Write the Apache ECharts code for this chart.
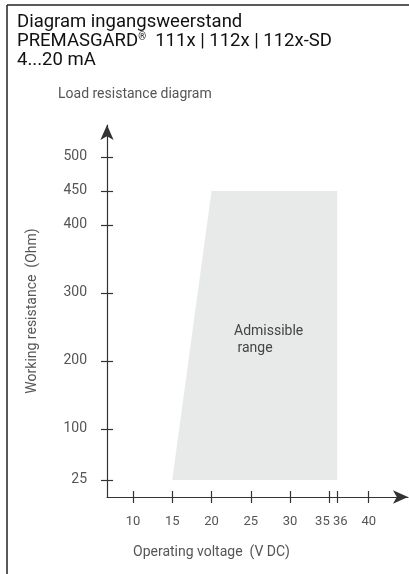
<!DOCTYPE html>
<html><head><meta charset="utf-8">
<script src="https://cdn.jsdelivr.net/npm/echarts@6/dist/echarts.min.js"></script>
<style>html,body{margin:0;padding:0;background:#fff}#c{width:409px;height:574px}</style>
</head><body><div id="c"></div>
<script>
const titleLines = ['Diagram ingangsweerstand', 'PREMASGARD{sup|®}  111x | 112x | 112x-SD', '4...20 mA'];
const subtitle = 'Load resistance diagram';
const xTicks = [10, 15, 20, 25, 30, 35, 36, 40];
const yTicks = [25, 100, 200, 300, 400, 450, 500];
const rangeVoltage = [15, 20, 36, 36];
const rangeResistance = [25, 450, 450, 25];
const rangeLabel = 'Admissible\n range';
const xName = 'Operating voltage  (V DC)';
const yName = 'Working resistance  (Ohm)';

const FONT = 'Roboto';
const GRAY = '#555';
const polygon = rangeVoltage.map((v, i) => [v, rangeResistance[i]]);
const lbl = {color: GRAY, fontFamily: FONT, fontSize: 13};

const chart = echarts.init(document.getElementById('c'));
const axisBase = (min, max) => ({type: 'value', min, max, splitLine: {show: false}});
const tickStyle = {color: '#333', width: 1.2};
chart.setOption({
  animation: false,
  grid: {left: 107, right: 1, top: 125, bottom: 77},
  xAxis: [
    Object.assign(axisBase(6.7, 45), {
      position: 'bottom',
      axisLine: {show: true, lineStyle: tickStyle, symbol: ['none', 'arrow'], symbolSize: [10, 15]},
      axisTick: {show: true, inside: false, length: 6, customValues: xTicks, lineStyle: tickStyle},
      axisLabel: Object.assign({customValues: xTicks, margin: 18,
        formatter: v => v === 35 ? '{l|35}' : v === 36 ? '{r|36}' : '{n|' + v + '}',
        rich: {n: lbl, l: Object.assign({padding: [0, 14, 0, 0]}, lbl), r: Object.assign({padding: [0, 0, 0, 6]}, lbl)}}, lbl)
    }),
    Object.assign(axisBase(6.7, 45), {
      position: 'bottom',
      axisLine: {show: false},
      axisTick: {show: true, inside: true, length: 6, customValues: xTicks, lineStyle: tickStyle},
      axisLabel: {show: false}
    })
  ],
  yAxis: [
    Object.assign(axisBase(0, 547), {
      position: 'left',
      name: yName, nameLocation: 'middle', nameGap: 68, nameRotate: 90,
      nameTextStyle: {color: GRAY, fontFamily: FONT, fontSize: 14},
      axisLine: {show: true, lineStyle: tickStyle, symbol: ['none', 'arrow'], symbolSize: [10, 15]},
      axisTick: {show: true, inside: false, length: 6, customValues: yTicks, lineStyle: tickStyle},
      axisLabel: Object.assign({customValues: yTicks, margin: 20, formatter: v => String(v)}, lbl, {fontSize: 14})
    }),
    Object.assign(axisBase(0, 547), {
      position: 'left',
      axisLine: {show: false},
      axisTick: {show: true, inside: true, length: 6, customValues: yTicks, lineStyle: tickStyle},
      axisLabel: {show: false}
    })
  ],
  series: [{
    type: 'custom',
    renderItem: function (params, api) {
      const pts = polygon.map(p => api.coord(p));
      return {type: 'polygon', shape: {points: pts}, style: {fill: '#e8e9e9'}, silent: true};
    },
    data: [polygon[0]],
    clip: false,
    z: 1
  }],
  graphic: [
    {type: 'line', z: 100, shape: {x1: 7, y1: 5, x2: 409, y2: 5}, style: {stroke: '#222', lineWidth: 1.5}},
    {type: 'line', z: 100, shape: {x1: 7, y1: 5, x2: 7, y2: 574}, style: {stroke: '#222', lineWidth: 1.5}},
    {type: 'text', z: 100, left: 17, top: 13, style: {text: titleLines.join('\n'), fill: '#111', font: '18.5px ' + FONT, lineHeight: 19,
      rich: {sup: {fontSize: 10, fontFamily: FONT, fill: '#111', verticalAlign: 'top', lineHeight: 19}}}},
    {type: 'text', z: 100, left: 58, top: 87, style: {text: subtitle, fill: GRAY, font: '14px ' + FONT}},
    {type: 'text', z: 100, left: 133, top: 545, style: {text: xName, fill: GRAY, font: '14px ' + FONT}},
    {type: 'text', z: 100, left: 234, top: 323, style: {text: rangeLabel, fill: '#444', font: '14px ' + FONT, lineHeight: 17}}
  ]
});
</script></body></html>
